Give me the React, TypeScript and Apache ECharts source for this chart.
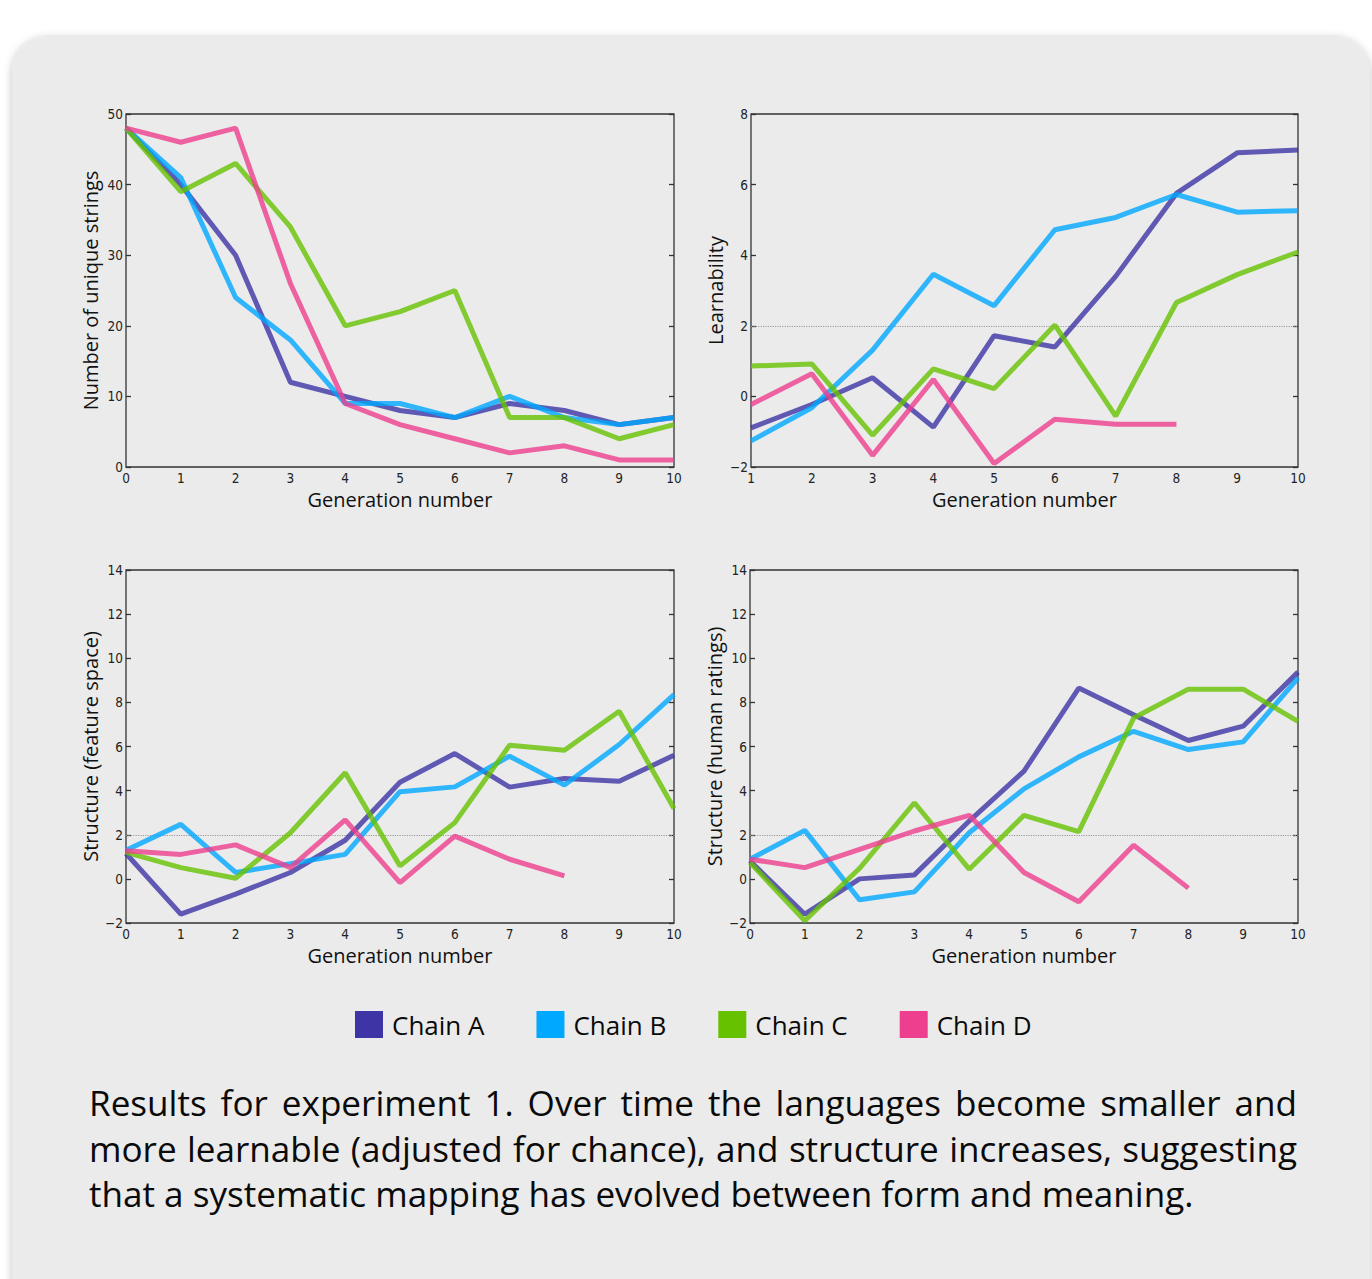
import React, { useEffect, useRef } from "react";
import * as echarts from "echarts";

const chainNames = ["Chain A", "Chain B", "Chain C", "Chain D"];
const chainColors = ["#3d35a5", "#00a8ff", "#66c200", "#ee3e8e"];

const gensFull = [0, 1, 2, 3, 4, 5, 6, 7, 8, 9, 10];
const gensLearn = [1, 2, 3, 4, 5, 6, 7, 8, 9, 10];

// Panel 1: Number of unique strings
const uniqueA = [48, 40, 30, 12, 10, 8, 7, 9, 8, 6, 7];
const uniqueB = [48, 41, 24, 18, 9, 9, 7, 10, 7, 6, 7];
const uniqueC = [48, 39, 43, 34, 20, 22, 25, 7, 7, 4, 6];
const uniqueD = [48, 46, 48, 26, 9, 6, 4, 2, 3, 1, 1];

// Panel 2: Learnability (generations 1-10)
const learnA = [-0.89, -0.23, 0.53, -0.87, 1.72, 1.4, 3.4, 5.75, 6.9, 6.98];
const learnB = [-1.26, -0.32, 1.31, 3.46, 2.57, 4.72, 5.07, 5.72, 5.22, 5.26];
const learnC = [0.86, 0.92, -1.1, 0.78, 0.22, 2.02, -0.56, 2.66, 3.45, 4.09];
const learnD = [-0.23, 0.64, -1.67, 0.48, -1.9, -0.65, -0.79, -0.79];

// Panel 3: Structure (feature space)
const featA = [1.15, -1.6, -0.69, 0.29, 1.75, 4.38, 5.68, 4.16, 4.55, 4.43, 5.6];
const featB = [1.3, 2.47, 0.29, 0.69, 1.11, 3.95, 4.17, 5.56, 4.25, 6.09, 8.35];
const featC = [1.2, 0.51, 0.03, 2.09, 4.81, 0.59, 2.55, 6.06, 5.83, 7.6, 3.19];
const featD = [1.27, 1.11, 1.54, 0.51, 2.67, -0.17, 1.94, 0.89, 0.14];

// Panel 4: Structure (human ratings)
const humanA = [0.81, -1.6, 0.0, 0.18, 2.62, 4.88, 8.65, 7.44, 6.27, 6.92, 9.37];
const humanB = [0.89, 2.2, -0.95, -0.59, 2.09, 4.08, 5.53, 6.69, 5.86, 6.21, 9.1];
const humanC = [0.74, -1.9, 0.48, 3.45, 0.44, 2.88, 2.14, 7.29, 8.6, 8.6, 7.14];
const humanD = [0.89, 0.51, 1.34, 2.17, 2.88, 0.29, -1.04, 1.52, -0.42];

const yNames = [
  "Number of unique strings",
  "Learnability",
  "Structure (feature space)",
  "Structure (human ratings)",
];
const xName = "Generation number";
const chanceLevel = 2;

const captionLines = [
  "Results for experiment 1. Over time the languages become smaller and",
  "more learnable (adjusted for chance), and structure increases, suggesting",
  "that a systematic mapping has evolved between form and meaning.",
];

const panels = [
  { xs: gensFull, data: [uniqueA, uniqueB, uniqueC, uniqueD], xMin: 0, yMin: 0, yMax: 50, yInt: 10, chance: false },
  { xs: gensLearn, data: [learnA, learnB, learnC, learnD], xMin: 1, yMin: -2, yMax: 8, yInt: 2, chance: true },
  { xs: gensFull, data: [featA, featB, featC, featD], xMin: 0, yMin: -2, yMax: 14, yInt: 2, chance: true },
  { xs: gensFull, data: [humanA, humanB, humanC, humanD], xMin: 0, yMin: -2, yMax: 14, yInt: 2, chance: true },
];

const gridBoxes = [
  { left: 126, top: 114, width: 548, height: 353 },
  { left: 751, top: 114, width: 547, height: 353 },
  { left: 126, top: 570, width: 548, height: 353 },
  { left: 750, top: 570, width: 548, height: 353 },
];

const tickFont = "'Liberation Sans Narrow', 'DejaVu Sans Condensed', sans-serif";
const mainFont = "'Open Sans', 'Noto Sans', sans-serif";

function fmt(v: number) {
  return v < 0 ? "\u2212" + Math.abs(v) : String(v);
}

function buildCaption(): any[] {
  const left = 89;
  const right = 1297;
  const lineYs = [1102, 1148, 1193];
  const canvas = document.createElement("canvas");
  const ctx = canvas.getContext("2d") as CanvasRenderingContext2D;
  const baseSize = 30;
  ctx.font = `${baseSize}px 'Open Sans'`;
  const lastW = ctx.measureText(captionLines[2]).width;
  const size = Math.max(24, Math.min(36, (baseSize * 1105) / lastW));
  ctx.font = `${size}px 'Open Sans'`;
  const els: any[] = [];
  captionLines.forEach((line, li) => {
    const words = line.split(" ");
    const widths = words.map((w) => ctx.measureText(w).width);
    const total = widths.reduce((a, b) => a + b, 0);
    const justify = li < captionLines.length - 1;
    const gap = justify ? (right - left - total) / (words.length - 1) : ctx.measureText(" ").width;
    let x = left;
    words.forEach((w, i) => {
      els.push({
        type: "text",
        x,
        y: lineYs[li],
        style: {
          text: w,
          fill: "#0a0a0a",
          font: `${size}px 'Open Sans'`,
          textVerticalAlign: "middle",
          textAlign: "left",
        },
      });
      x += widths[i] + gap;
    });
  });
  return els;
}

export default function App() {
  const ref = useRef<HTMLDivElement>(null);
  useEffect(() => {
    if (!ref.current) return;
    const chart = echarts.init(ref.current, null, { renderer: "svg" });

    const grids = gridBoxes.map((g) => ({
      ...g,
      show: true,
      borderColor: "#333",
      borderWidth: 1.3,
      backgroundColor: "transparent",
      containLabel: false,
    }));

    const xAxes = panels.map((p, i) => ({
      type: "value",
      gridIndex: i,
      min: p.xMin,
      max: 10,
      interval: 1,
      name: xName,
      nameLocation: "middle",
      nameGap: 22,
      nameTextStyle: { fontFamily: mainFont, fontSize: 20, color: "#111" },
      axisLine: { show: false },
      axisTick: { show: false },
      splitLine: { show: false },
      axisLabel: { fontFamily: tickFont, fontSize: 13.5, color: "#222", margin: 4, formatter: fmt },
    }));

    const yLeft = panels.map((p, i) => ({
      type: "value",
      gridIndex: i,
      min: p.yMin,
      max: p.yMax,
      interval: p.yInt,
      name: yNames[i],
      nameLocation: "middle",
      nameGap: 26,
      nameTextStyle: { fontFamily: mainFont, fontSize: 20, color: "#111" },
      axisLine: { show: false },
      axisTick: { show: true, inside: true, length: 5, lineStyle: { color: "#333", width: 1.3 } },
      splitLine: { show: false },
      axisLabel: { fontFamily: tickFont, fontSize: 13.5, color: "#222", margin: 3, formatter: fmt },
    }));
    const yRight = panels.map((p, i) => ({
      type: "value",
      gridIndex: i,
      position: "right",
      min: p.yMin,
      max: p.yMax,
      interval: p.yInt,
      axisLine: { show: false },
      axisTick: { show: true, inside: true, length: 5, lineStyle: { color: "#333", width: 1.3 } },
      splitLine: { show: false },
      axisLabel: { show: false },
    }));

    const series: any[] = [];
    panels.forEach((p, pi) => {
      p.data.forEach((vals, ci) => {
        const s: any = {
          type: "line",
          name: chainNames[ci],
          xAxisIndex: pi,
          yAxisIndex: pi,
          data: vals.map((v, k) => [p.xs[k], v]),
          showSymbol: false,
          symbol: "none",
          color: chainColors[ci],
          lineStyle: { width: 5, color: chainColors[ci], opacity: 0.8 },
          z: 3,
        };
        if (ci === 0 && p.chance) {
          s.markLine = {
            silent: true,
            symbol: "none",
            label: { show: false },
            lineStyle: { type: "dotted", color: "#9a9a9a", width: 1.2 },
            data: [{ yAxis: chanceLevel }],
            z: 1,
          };
        }
        series.push(s);
      });
    });

    const option: any = {
      animation: false,
      backgroundColor: "#ffffff",
      graphic: [
        {
          type: "rect",
          z: -10,
          shape: { x: 12, y: 37, width: 1358, height: 1300, r: 36 },
          style: { fill: "#ebebeb", shadowBlur: 8, shadowColor: "rgba(0,0,0,0.25)", shadowOffsetX: 0, shadowOffsetY: 1 },
        },
        ...buildCaption(),
      ],
      legend: {
        left: 350,
        top: 1006,
        itemWidth: 28,
        itemHeight: 27,
        itemGap: 52,
        icon: "rect",
        data: chainNames.map((n, i) => ({ name: n, itemStyle: { color: chainColors[i], opacity: 1 } })),
        textStyle: { fontFamily: mainFont, fontSize: 26, color: "#0a0a0a", padding: [0, 0, 0, 4] },
      },
      grid: grids,
      xAxis: xAxes,
      yAxis: [...yLeft, ...yRight],
      series,
    };
    chart.setOption(option);
    return () => chart.dispose();
  }, []);

  return (
    <div
      ref={ref}
      style={{ position: "fixed", left: 0, top: 0, width: 1372, height: 1279 }}
    />
  );
}
